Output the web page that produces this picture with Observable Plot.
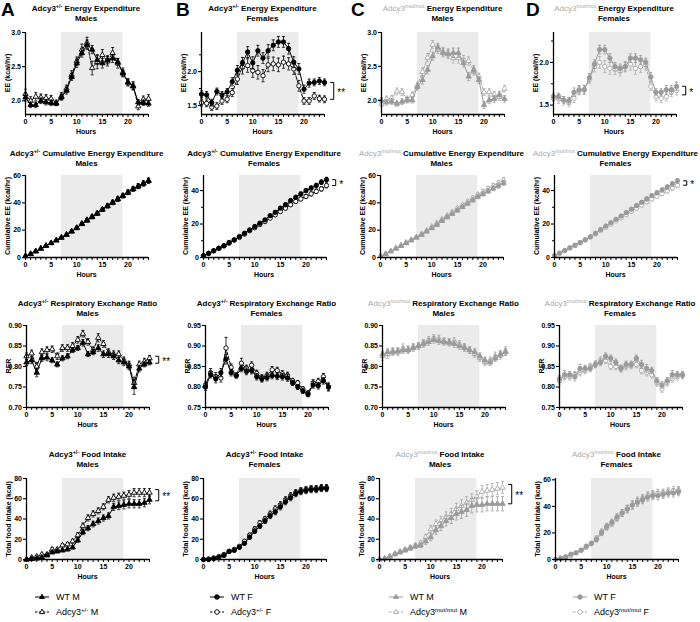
<!DOCTYPE html>
<html><head><meta charset="utf-8">
<script src="https://cdn.jsdelivr.net/npm/d3@7"></script>
<script src="https://cdn.jsdelivr.net/npm/@observablehq/plot@0.6"></script>
<style>
body{margin:0;background:#fff;}
#fig{position:relative;width:700px;height:622px;overflow:hidden;font-family:"Liberation Sans",Arial,sans-serif;color:#000;background:#fff;}
.pl{position:absolute;}
.title{position:absolute;text-align:center;font-weight:bold;font-size:8px;line-height:9.5px;white-space:nowrap;transform:translateX(-50%);}
.title sup,.leg sup{font-size:0.68em;line-height:0;vertical-align:0.5em;}
.g{color:#a8a8a8;font-weight:normal;}
.ylab{position:absolute;font-weight:bold;font-size:7px;white-space:nowrap;transform:translate(-50%,-50%) rotate(-90deg);}
.xlab{position:absolute;font-weight:bold;font-size:7px;white-space:nowrap;transform:translate(-50%,-50%);}
.letter{position:absolute;font-weight:bold;font-size:19px;line-height:19px;}
.leg{position:absolute;font-size:9px;white-space:nowrap;display:flex;align-items:center;transform:translateY(-50%);}
.leg svg{margin-right:4px;}
</style>
</head><body><div id="fig"></div>
<script>
const hours = [0,1,2,3,4,5,6,7,8,9,10,11,12,13,14,15,16,17,18,19,20,21,22,23,24];
const lightsOff = 7, lightsOn = 19;

// ---- Row 1: Energy expenditure (kcal/hr) ----
const eeA_wt  = [2.05,1.94,1.94,2.00,1.98,1.97,1.96,2.05,2.15,2.35,2.55,2.70,2.82,2.75,2.60,2.55,2.60,2.62,2.57,2.40,2.27,2.21,1.98,1.97,1.96];
const eeA_wtSe= [0.05,0.04,0.04,0.04,0.04,0.04,0.03,0.04,0.05,0.05,0.06,0.06,0.07,0.06,0.07,0.07,0.06,0.06,0.05,0.05,0.05,0.05,0.04,0.04,0.04];
const eeA_mut = [2.10,2.00,2.06,2.05,2.04,2.03,1.97,2.07,2.18,2.38,2.58,2.75,2.85,2.48,2.57,2.67,2.58,2.70,2.55,2.42,2.27,2.22,1.92,2.02,2.03];
const eeA_mutSe=[0.07,0.06,0.06,0.05,0.05,0.05,0.04,0.05,0.05,0.06,0.06,0.08,0.08,0.10,0.10,0.08,0.07,0.08,0.07,0.06,0.05,0.06,0.05,0.05,0.06];
const eeB_wt  = [1.665,1.655,1.54,1.705,1.655,1.70,1.85,2.02,2.13,2.29,2.13,2.31,2.20,2.31,2.39,2.44,2.44,2.34,2.14,2.04,1.74,1.83,1.84,1.86,1.84];
const eeB_wtSe= [0.05,0.05,0.05,0.05,0.05,0.05,0.06,0.07,0.08,0.08,0.09,0.08,0.08,0.09,0.08,0.08,0.08,0.08,0.08,0.08,0.06,0.06,0.05,0.05,0.05];
const eeB_mut = [1.54,1.53,1.475,1.49,1.565,1.59,1.69,1.89,2.065,2.09,2.015,1.99,1.94,2.10,2.115,2.10,2.14,2.115,2.04,1.79,1.565,1.565,1.64,1.60,1.59];
const eeB_mutSe=[0.05,0.05,0.05,0.05,0.05,0.05,0.06,0.08,0.10,0.10,0.10,0.10,0.09,0.10,0.10,0.10,0.09,0.09,0.08,0.08,0.05,0.05,0.05,0.05,0.05];
const eeC_wt  = [2.00,1.97,1.98,1.95,1.98,2.00,2.00,2.20,2.30,2.45,2.65,2.78,2.70,2.68,2.70,2.70,2.55,2.35,2.45,2.30,1.93,2.00,2.02,2.08,2.02];
const eeC_wtSe= [0.04,0.04,0.04,0.04,0.04,0.04,0.04,0.05,0.06,0.06,0.06,0.06,0.06,0.06,0.07,0.07,0.06,0.06,0.06,0.05,0.05,0.05,0.05,0.05,0.05];
const eeC_mut = [1.95,2.02,2.03,2.13,2.12,2.02,2.08,2.22,2.42,2.63,2.82,2.75,2.72,2.70,2.62,2.62,2.60,2.58,2.43,2.35,2.12,2.12,2.08,2.05,2.17];
const eeC_mutSe=[0.04,0.04,0.04,0.05,0.05,0.04,0.04,0.05,0.06,0.06,0.06,0.06,0.06,0.06,0.07,0.07,0.06,0.06,0.06,0.05,0.05,0.05,0.05,0.05,0.05];
const eeD_wt  = [1.60,1.60,1.56,1.55,1.65,1.68,1.68,1.82,1.98,2.15,2.15,2.05,1.95,1.93,1.95,2.05,2.05,2.03,2.00,1.83,1.65,1.65,1.68,1.68,1.72];
const eeD_wtSe= [0.04,0.04,0.04,0.04,0.05,0.05,0.05,0.05,0.05,0.05,0.05,0.05,0.05,0.05,0.05,0.05,0.05,0.05,0.05,0.05,0.04,0.04,0.05,0.05,0.05];
const eeD_mut = [1.58,1.57,1.55,1.53,1.58,1.67,1.68,1.80,1.95,2.00,1.95,1.93,1.92,1.90,1.95,1.98,1.93,1.95,1.97,1.72,1.60,1.58,1.60,1.65,1.67];
const eeD_mutSe=[0.04,0.05,0.05,0.05,0.05,0.05,0.05,0.05,0.06,0.07,0.07,0.07,0.06,0.06,0.06,0.07,0.07,0.07,0.06,0.05,0.05,0.05,0.05,0.05,0.05];

// ---- Row 2: Cumulative energy expenditure (kcal/hr) ----
const cumA_wt  = [1,2.5,4.5,6.5,8.5,10.5,12.5,14.5,16.5,19,21.5,24.5,27,29.5,32,35,37.5,40,42.5,45,47.5,50,52,54,56];
const cumA_mut = [1,2.6,4.6,6.6,8.6,10.6,12.6,14.6,16.8,19.2,21.8,24.8,27.5,30,32.5,35.3,37.8,40.5,43,45.3,47.8,50.2,52.2,54.3,56.3];
const cumB_wt  = [1,2.5,4,5.5,7,9,10.5,12.5,14.5,16.5,18.5,20.5,22.5,25,27,29.5,31.5,34,36,38,40,41.5,43,45,46.5];
const cumB_mut = [1,2.4,4,5.5,7,8.5,10.5,12,14,16,17.8,19.7,21.5,23.5,25.5,27.5,29.5,31.5,33.5,35,36.5,38,39.5,41,43];
const cumC_wt  = [1,2.5,4.5,6.5,8.5,10.5,12.5,14.5,16.5,19,21.5,24,26.8,29.5,32,34.5,37,39.5,42,44.5,46.5,48.5,50.5,52.5,54.5];
const cumC_mut = [1,2.6,4.7,6.8,8.9,11,13,15,17.3,19.8,22.5,25.2,28,30.7,33.3,36,38.5,41,43.5,46,48.2,50.3,52.4,54.5,56.7];
const cumD_wt  = [1,2.6,4.2,5.8,7.4,9,10.7,12.5,14.5,16.7,18.8,20.8,22.8,24.8,26.8,28.9,31,33,35,37,38.7,40.4,42.1,44,45.8];
const cumD_mut = [1,2.5,4.1,5.6,7.1,8.7,10.3,12.1,14,16,18,19.9,21.8,23.7,25.6,27.5,29.5,31.4,33.3,35,36.6,38.2,39.8,41.5,43.2];
const cumSeM = [0.1,0.2,0.3,0.4,0.4,0.5,0.6,0.6,0.7,0.8,0.9,1.0,1.0,1.1,1.2,1.3,1.3,1.4,1.5,1.5,1.6,1.6,1.7,1.8,1.8];
const cumSeF = [0.1,0.2,0.2,0.3,0.3,0.4,0.4,0.5,0.5,0.6,0.7,0.7,0.8,0.8,0.9,0.9,1.0,1.0,1.1,1.1,1.2,1.2,1.3,1.3,1.4];

// ---- Row 3: Respiratory exchange ratio ----
const rerA_wt  = [0.810,0.815,0.785,0.820,0.822,0.815,0.805,0.820,0.825,0.840,0.845,0.858,0.830,0.835,0.845,0.830,0.830,0.825,0.815,0.810,0.800,0.750,0.795,0.805,0.810];
const rerA_wtSe= [0.008,0.008,0.010,0.008,0.008,0.006,0.006,0.006,0.006,0.006,0.006,0.008,0.006,0.006,0.008,0.008,0.008,0.008,0.008,0.008,0.008,0.018,0.008,0.006,0.006];
const rerA_mut = [0.825,0.832,0.800,0.835,0.840,0.842,0.825,0.845,0.845,0.850,0.865,0.880,0.860,0.840,0.870,0.855,0.835,0.830,0.830,0.815,0.805,0.760,0.805,0.812,0.820];
const rerA_mutSe=[0.008,0.008,0.010,0.008,0.008,0.008,0.008,0.008,0.008,0.008,0.008,0.008,0.008,0.008,0.010,0.008,0.008,0.008,0.008,0.008,0.008,0.014,0.008,0.008,0.007];
const rerB_wt  = [0.800,0.830,0.820,0.835,0.868,0.835,0.828,0.845,0.838,0.840,0.825,0.820,0.823,0.828,0.826,0.825,0.822,0.810,0.800,0.790,0.782,0.805,0.803,0.815,0.800];
const rerB_wtSe= [0.008,0.008,0.010,0.010,0.012,0.008,0.006,0.008,0.008,0.008,0.008,0.008,0.008,0.008,0.008,0.008,0.008,0.006,0.006,0.006,0.006,0.008,0.008,0.008,0.008];
const rerB_mut = [0.805,0.835,0.825,0.822,0.895,0.848,0.828,0.858,0.845,0.853,0.833,0.822,0.828,0.842,0.840,0.832,0.828,0.815,0.810,0.795,0.785,0.810,0.813,0.825,0.800];
const rerB_mutSe=[0.008,0.010,0.010,0.010,0.026,0.008,0.006,0.012,0.008,0.008,0.008,0.008,0.008,0.008,0.008,0.008,0.008,0.006,0.006,0.006,0.006,0.008,0.008,0.008,0.010];
const rerC_wt  = [0.830,0.835,0.835,0.838,0.840,0.840,0.845,0.850,0.855,0.860,0.865,0.862,0.860,0.858,0.855,0.850,0.845,0.840,0.835,0.825,0.815,0.810,0.820,0.830,0.835];
const rerC_wtSe= [0.008,0.008,0.008,0.008,0.008,0.008,0.008,0.008,0.008,0.008,0.008,0.008,0.008,0.008,0.008,0.008,0.008,0.008,0.008,0.008,0.008,0.008,0.008,0.008,0.008];
const rerC_mut = [0.825,0.830,0.838,0.835,0.845,0.842,0.848,0.850,0.858,0.865,0.870,0.868,0.862,0.860,0.862,0.855,0.848,0.840,0.830,0.820,0.810,0.815,0.825,0.828,0.838];
const rerC_mutSe=[0.010,0.010,0.008,0.008,0.010,0.008,0.008,0.008,0.008,0.008,0.008,0.008,0.008,0.008,0.008,0.008,0.008,0.008,0.008,0.008,0.008,0.008,0.010,0.010,0.010];
const rerD_wt  = [0.820,0.830,0.830,0.825,0.845,0.845,0.845,0.855,0.860,0.875,0.870,0.860,0.845,0.855,0.855,0.870,0.855,0.845,0.840,0.815,0.805,0.815,0.830,0.830,0.830];
const rerD_wtSe= [0.008,0.010,0.008,0.010,0.010,0.008,0.008,0.008,0.008,0.008,0.008,0.008,0.008,0.008,0.008,0.008,0.010,0.010,0.008,0.008,0.008,0.008,0.010,0.008,0.008];
const rerD_mut = [0.815,0.825,0.825,0.830,0.835,0.840,0.850,0.855,0.865,0.865,0.850,0.850,0.845,0.850,0.852,0.855,0.840,0.835,0.830,0.810,0.795,0.810,0.820,0.825,0.828];
const rerD_mutSe=[0.008,0.008,0.008,0.008,0.008,0.008,0.008,0.008,0.008,0.008,0.008,0.008,0.008,0.008,0.008,0.008,0.008,0.008,0.008,0.008,0.008,0.008,0.008,0.008,0.008];

// ---- Row 4: Total food intake (kcal) ----
const foodA_wt  = [0,0.5,1,2,4,7,8,9,10,12,19,27,31,35,38,41,43,52,53,54,55,55,55,56,59];
const foodA_wtSe= [0.3,0.5,0.6,0.8,1,1.2,1.2,1.3,1.4,1.6,2,2.5,2.6,2.8,3,3,3,3.5,3.8,4,4,4,4,4,4];
const foodA_mut = [0,2,3,5,5,10,10,14,15,18,24,33,41,45,48,52,59,61,62,63,64,66,66,66,66];
const foodA_mutSe=[0.5,0.8,1,1.2,1.2,1.5,1.5,1.6,1.8,2,2.5,3,3,3,3,3,3,3.5,3.5,3.5,4,4,4,4,4];
const foodB_wt  = [0,0,1,2,4,8,9,12,16,22,28,33,38,43,47,52,57,61,65,67,68,69,69,70,70];
const foodB_wtSe= [0.3,0.3,0.5,0.8,1,1.2,1.2,1.4,1.6,2,2.2,2.4,2.5,2.6,2.8,3,3,3,3,3,3,3,3,3,3];
const foodB_mut = [0,0.5,1.5,3,5,8,10,13,18,24,30,36,40,45,50,54,59,63,66,68,69,70,70,71,71];
const foodB_mutSe=[0.3,0.4,0.6,0.8,1,1.2,1.3,1.5,1.8,2,2.3,2.5,2.6,2.8,3,3,3,3,3,3,3,3,3,3,3];
const foodC_wt  = [0,1,3,5,7,9,11,13,14,18,22,29,33,38,41,45,47,49,53,54,54,55,55,55,55];
const foodC_wtSe= [0.3,0.5,0.8,1,1.2,1.5,1.8,2,2.2,3,3.5,4,4.5,5,5.5,6,6.5,6.5,7,7,7,7,7,7,7];
const foodC_mut = [0,1,3,6,8,10,12,14,16,22,30,35,38,42,45,50,53,56,59,62,67,68,69,70,71];
const foodC_mutSe=[0.3,0.5,0.8,1,1.2,1.5,1.8,2,2.2,3,3.5,4,4.5,5,5.5,5.5,6,6,6,6,6,6,6,6,6];
const foodD_wt  = [0,1,2,4,5,7,10,12,15,20,25,28,32,35,38,41,43,45,47,48,48,49,50,50,51];
const foodD_wtSe= [0.3,0.5,0.6,0.8,1,1.2,1.4,1.6,1.8,2,2.2,2.4,2.5,2.6,2.8,3,3,3,3,3,3,3,3,3,3];
const foodD_mut = [0,1,2,3,5,7,9,12,16,21,24,27,31,35,38,41,44,46,48,49,50,50,51,52,52];
const foodD_mutSe=[0.3,0.5,0.6,0.8,1,1.2,1.4,1.6,1.8,2,2.2,2.4,2.5,2.6,2.8,3,3,3,3,3,3,3,3,3,3];

// ---- Text ----
const letters = ["A","B","C","D"];
const metricTitles = ["Energy Expenditure","Cumulative Energy Expenditure","Respiratory Exchange Ratio","Food Intake"];
const sexLabels = ["Males","Females","Males","Females"];
const genoLabels = ["+/-","+/-","mut/mut","mut/mut"];
const yLabels = ["EE (kcal/hr)","Cumulative EE (kcal/hr)","RER","Total food intake (kcal)"];
const legendWT = ["WT M","WT F","WT M","WT F"];
const legendMutSex = ["M","F","M","F"];

// ---- Scales per panel ----
const yDomains = [
  [[1.8,3.0],[1.365,2.58],[1.79,3.0],[1.39,2.35]],
  [[0,60],[0,49],[0,60],[0,49]],
  [[0.70,0.90],[0.75,0.95],[0.70,0.90],[0.75,0.95]],
  [[0,80],[0,80],[0,80],[0,61]]
];
const yTickSets = [
  [[2.0,2.5,3.0],[1.5,2.0],[2.0,2.5,3.0],[1.5,2.0]],
  [[0,20,40,60],[0,20,40],[0,20,40,60],[0,20,40]],
  [[0.70,0.75,0.80,0.85,0.90],[0.75,0.80,0.85,0.90,0.95],[0.70,0.75,0.80,0.85,0.90],[0.75,0.80,0.85,0.90,0.95]],
  [[0,20,40,60,80],[0,20,40,60,80],[0,20,40,60,80],[0,20,40,60]]
];
const yMinorSets = [
  [[],[1.75,2.25],[],[1.75,2.25]],
  [[],[10,30],[],[10,30]],
  [[],[],[],[]],
  [[],[],[],[]]
];
const yFormats = [".1f","d",".2f","d"];
// significance brackets: [row][col] -> [upper, lower, label] or null
const brackets = [
  [null,[1.84,1.59,"**"],null,[1.72,1.62,"*"]],
  [null,[46.5,43,"*"],null,[45.8,43.2,"*"]],
  [[0.825,0.808,"**"],null,null,null],
  [[69,58,"**"],null,[74,55,"**"],null]
];
const series = [
  [[eeA_wt,eeA_wtSe,eeA_mut,eeA_mutSe],[eeB_wt,eeB_wtSe,eeB_mut,eeB_mutSe],[eeC_wt,eeC_wtSe,eeC_mut,eeC_mutSe],[eeD_wt,eeD_wtSe,eeD_mut,eeD_mutSe]],
  [[cumA_wt,cumSeM,cumA_mut,cumSeM],[cumB_wt,cumSeF,cumB_mut,cumSeF],[cumC_wt,cumSeM,cumC_mut,cumSeM],[cumD_wt,cumSeF,cumD_mut,cumSeF]],
  [[rerA_wt,rerA_wtSe,rerA_mut,rerA_mutSe],[rerB_wt,rerB_wtSe,rerB_mut,rerB_mutSe],[rerC_wt,rerC_wtSe,rerC_mut,rerC_mutSe],[rerD_wt,rerD_wtSe,rerD_mut,rerD_mutSe]],
  [[foodA_wt,foodA_wtSe,foodA_mut,foodA_mutSe],[foodB_wt,foodB_wtSe,foodB_mut,foodB_mutSe],[foodC_wt,foodC_wtSe,foodC_mut,foodC_mutSe],[foodD_wt,foodD_wtSe,foodD_mut,foodD_mutSe]]
];

// ---- Layout ----
const rowTop = [32,175,325,478];
const rowBot = [114,257,407,559];
const titleTop = [4,149,299,450];
const frameLeft = [[24.5,25,26,26],[201,202.5,205,203],[381,380,382,378.5],[552.5,554,558.5,555]];
const FW = 123;
const colLetterX = [1,176,351,526];
const legendX = [42,217,396,580];
const legendY = [597,612];

const styles = {
  black: {wt:{fill:"#000",stroke:"#000",line:"#000"}, mut:{fill:"#fff",stroke:"#000",line:"#000"}},
  grey:  {wt:{fill:"#9a9a9a",stroke:"#9a9a9a",line:"#9a9a9a"}, mut:{fill:"#fff",stroke:"#ababab",line:"#ababab"}}
};
const dash = "3,1.6";

const fig = document.getElementById("fig");

function seriesMarks(rows, st, symbol, dashed){
  return [
    Plot.line(rows,{x:"h",y:"v",stroke:st.line,strokeWidth:1,strokeDasharray:dashed?dash:null}),
    Plot.ruleX(rows,{x:"h",y1:d=>d.v-d.e,y2:d=>d.v+d.e,stroke:st.stroke,strokeWidth:0.8}),
    Plot.link(rows,{x1:d=>d.h-0.3,x2:d=>d.h+0.3,y1:d=>d.v+d.e,y2:d=>d.v+d.e,stroke:st.stroke,strokeWidth:0.8}),
    Plot.link(rows,{x1:d=>d.h-0.3,x2:d=>d.h+0.3,y1:d=>d.v-d.e,y2:d=>d.v-d.e,stroke:st.stroke,strokeWidth:0.8}),
    Plot.dot(rows,{x:"h",y:"v",symbol,r:symbol==="triangle"?2.0:2.2,fill:st.fill,stroke:st.stroke,strokeWidth:0.9})
  ];
}

function addDiv(cls, html, left, top){
  const d = document.createElement("div");
  d.className = cls; d.innerHTML = html;
  d.style.left = left + "px"; d.style.top = top + "px";
  fig.appendChild(d); return d;
}

for (let r = 0; r < 4; r++) {
  for (let c = 0; c < 4; c++) {
    const grey = c >= 2;
    const st = grey ? styles.grey : styles.black;
    const symbol = (c % 2 === 0) ? "triangle" : "circle";
    const [wt, wtSe, mut, mutSe] = series[r][c];
    const rowsWT = hours.map((h,i)=>({h, v:wt[i], e:wtSe[i]}));
    const rowsMut = hours.map((h,i)=>({h, v:mut[i], e:mutSe[i]}));
    const [y0, y1] = yDomains[r][c];
    const fl = frameLeft[c][r];
    const top = rowTop[r], bot = rowBot[r];
    const ML = 30, MR = 40, MT = 6, MB = 16;
    const marks = [
      Plot.rect([{a:lightsOff,b:lightsOn}],{x1:"a",x2:"b",y1:()=>y0,y2:()=>y1,fill:"#ebebeb"}),
      ...seriesMarks(rowsMut, st.mut, symbol, true),
      ...seriesMarks(rowsWT, st.wt, symbol, false),
      Plot.ruleX([0],{stroke:"#000",strokeWidth:1.3}),
      Plot.ruleY([y0],{stroke:"#000",strokeWidth:1.3}),
      Plot.axisY({ticks:yTickSets[r][c],tickSize:3,tickPadding:1.5,tickFormat:d3.format(yFormats[r]),label:null,strokeWidth:1.1}),
      Plot.axisX({ticks:hours,tickSize:3,tickPadding:1.5,tickFormat:d=>(d%5===0&&d<=20)?String(d):"",label:null,strokeWidth:1})
    ];
    if (yMinorSets[r][c].length) marks.push(Plot.axisY({ticks:yMinorSets[r][c],tickSize:2,tickFormat:()=>"",label:null,strokeWidth:1}));
    const b = brackets[r][c];
    if (b) {
      const bx = 25.8;
      const br = [{u:b[0], l:b[1], t:b[2]}];
      marks.push(
        Plot.link(br,{x1:()=>bx,x2:()=>bx,y1:"u",y2:"l",stroke:"#000",strokeWidth:1}),
        Plot.link(br,{x1:()=>bx-0.7,x2:()=>bx,y1:"u",y2:"u",stroke:"#000",strokeWidth:1}),
        Plot.link(br,{x1:()=>bx-0.7,x2:()=>bx,y1:"l",y2:"l",stroke:"#000",strokeWidth:1}),
        Plot.text(br,{x:()=>bx+0.7,y:d=>(d.u+d.l)/2,text:"t",textAnchor:"start",fontSize:10,fontWeight:"normal",dy:2})
      );
    }
    const svg = Plot.plot({
      width: ML+FW+MR, height: MT+(bot-top)+MB,
      marginLeft: ML, marginRight: MR, marginTop: MT, marginBottom: MB,
      x: {domain:[0,24]}, y: {domain:[y0,y1]},
      style: {fontFamily:"'Liberation Sans',Arial,sans-serif", fontSize:"7px", fontWeight:"bold", background:"none", overflow:"visible", color:"#000"},
      marks
    });
    svg.classList.add("pl");
    svg.style.position = "absolute";
    svg.style.left = (fl-ML)+"px";
    svg.style.top = (top-MT)+"px";
    svg.style.maxWidth = "none";
    fig.appendChild(svg);

    const cx = fl + FW/2;
    const geno = grey ? `<span class="g">Adcy3<sup>${genoLabels[c]}</sup></span>` : `Adcy3<sup>${genoLabels[c]}</sup>`;
    addDiv("title", `${geno} ${metricTitles[r]}<br>${sexLabels[c]}`, cx, titleTop[r]);
    addDiv("ylab", yLabels[r], fl-18, (top+bot)/2);
    addDiv("xlab", "Hours", cx, bot+17);
  }
}

for (let c = 0; c < 4; c++) {
  addDiv("letter", letters[c], colLetterX[c], 0);
  const grey = c >= 2;
  const st = grey ? styles.grey : styles.black;
  const tri = c % 2 === 0;
  const sw = (s, dashed) => {
    const marker = tri
      ? `<path d="M10,2.2 L12.5,6.5 L7.5,6.5 Z" fill="${s.fill}" stroke="${s.stroke}" stroke-width="0.9"/>`
      : `<circle cx="10" cy="5" r="2.3" fill="${s.fill}" stroke="${s.stroke}" stroke-width="0.9"/>`;
    const mid = dashed ? `<line x1="10" y1="2.6" x2="10" y2="7.4" stroke="${s.stroke}" stroke-width="0.8"/>` : "";
    return `<svg width="20" height="10"><line x1="3" y1="5" x2="17" y2="5" stroke="${s.line}" stroke-width="1" ${dashed?'stroke-dasharray="2.5,1.5"':''}/>${mid}${marker}</svg>`;
  };
  addDiv("leg", `${sw(st.wt,false)}<span>${legendWT[c]}</span>`, legendX[c]-10, legendY[0]);
  addDiv("leg", `${sw(st.mut,true)}<span>Adcy3<sup>${genoLabels[c]}</sup> ${legendMutSex[c]}</span>`, legendX[c]-10, legendY[1]);
}
</script>
</body></html>
